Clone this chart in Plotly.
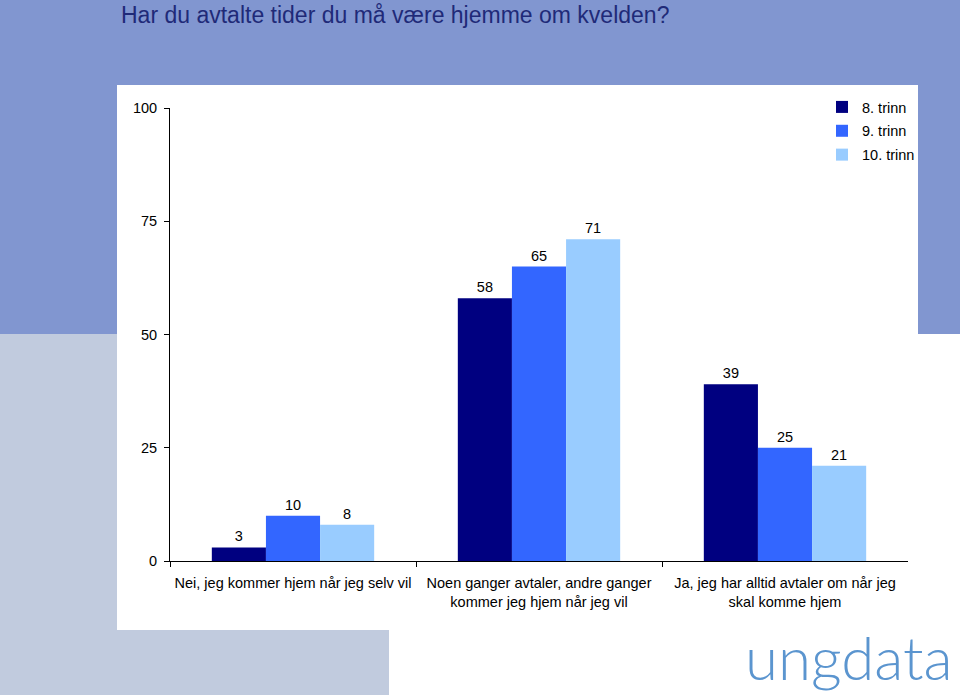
import plotly.graph_objects as go

categories = [
    "Nei, jeg kommer hjem når jeg selv vil",
    "Noen ganger avtaler, andre ganger<br>kommer jeg hjem når jeg vil",
    "Ja, jeg har alltid avtaler om når jeg<br>skal komme hjem",
]
series_names = ["8. trinn", "9. trinn", "10. trinn"]
trinn8 = [3, 58, 39]
trinn9 = [10, 65, 25]
trinn10 = [8, 71, 21]
colors = ["#000080", "#3366FF", "#99CCFF"]
y_ticks = [0, 25, 50, 75, 100]

W, H = 960, 695
FONT = "Liberation Sans, Arial, sans-serif"

fig = go.Figure()
for name, vals, col in zip(series_names, [trinn8, trinn9, trinn10], colors):
    fig.add_trace(go.Bar(
        name=name, x=categories, y=vals, marker_color=col, marker_line_width=0,
        legendgroup=name,
        text=[str(v) for v in vals], textposition="outside",
        textfont=dict(family=FONT, size=14.5, color="#000000"),
        cliponaxis=False,
    ))

def px(x):
    return x / W

def py(y):
    return 1 - y / H

shapes = [
    dict(type="rect", xref="paper", yref="paper", x0=0, x1=1, y0=py(334), y1=1,
         fillcolor="#8196D0", line_width=0, layer="below"),
    dict(type="rect", xref="paper", yref="paper", x0=0, x1=px(117), y0=0, y1=py(334),
         fillcolor="#C1CBDE", line_width=0, layer="below"),
    dict(type="rect", xref="paper", yref="paper", x0=0, x1=px(389), y0=0, y1=py(630),
         fillcolor="#C1CBDE", line_width=0, layer="below"),
    dict(type="rect", xref="paper", yref="paper", x0=px(117), x1=px(918), y0=py(630), y1=py(85),
         fillcolor="#FFFFFF", line_width=0, layer="below"),
]

fig.update_layout(
    template="none",
    width=W, height=H,
    margin=dict(l=0, r=0, t=0, b=0, pad=0),
    paper_bgcolor="#FFFFFF",
    plot_bgcolor="rgba(0,0,0,0)",
    barmode="group",
    bargap=0.34,
    bargroupgap=0,
    shapes=shapes,
    font=dict(family=FONT, size=14.5, color="#000000"),
    xaxis=dict(
        domain=[px(170), px(908)],
        automargin=False,
        showline=True, linecolor="#000000", linewidth=1,
        ticks="outside", tickson="boundaries", ticklen=5, tickcolor="#000000", tickwidth=1,
        ticklabelstandoff=9,
        tickfont=dict(family=FONT, size=14.5, color="#000000"),
        showgrid=False, zeroline=False,
    ),
    yaxis=dict(
        domain=[py(561), py(108)],
        automargin=False,
        range=[0, 100],
        tickvals=y_ticks,
        showline=True, linecolor="#000000", linewidth=1,
        ticks="outside", ticklen=5, tickcolor="#000000", tickwidth=1,
        ticklabelstandoff=4,
        tickfont=dict(family=FONT, size=14.5, color="#000000"),
        showgrid=False, zeroline=False,
    ),
    legend=dict(
        x=px(822), y=py(91), xanchor="left", yanchor="top",
        font=dict(family=FONT, size=14.5, color="#000000"),
        bgcolor="rgba(0,0,0,0)", tracegroupgap=2, itemwidth=30,
    ),
    annotations=[
        dict(text="Har du avtalte tider du må være hjemme om kvelden?",
             xref="paper", yref="paper", x=px(119), y=py(15), xanchor="left", yanchor="middle",
             showarrow=False, font=dict(family=FONT, size=23, color="#1F2A78")),
        dict(text="ungdata",
             xref="paper", yref="paper", x=px(849), y=py(657), xanchor="center", yanchor="middle",
             showarrow=False, font=dict(family="Lato, sans-serif", size=60, color="#5B95CF", weight=300)),
    ],
)

fig.write_html(
    "out.html",
    config={"displayModeBar": False},
    post_script="document.body.style.margin='0';document.body.style.overflow='hidden';",
)
